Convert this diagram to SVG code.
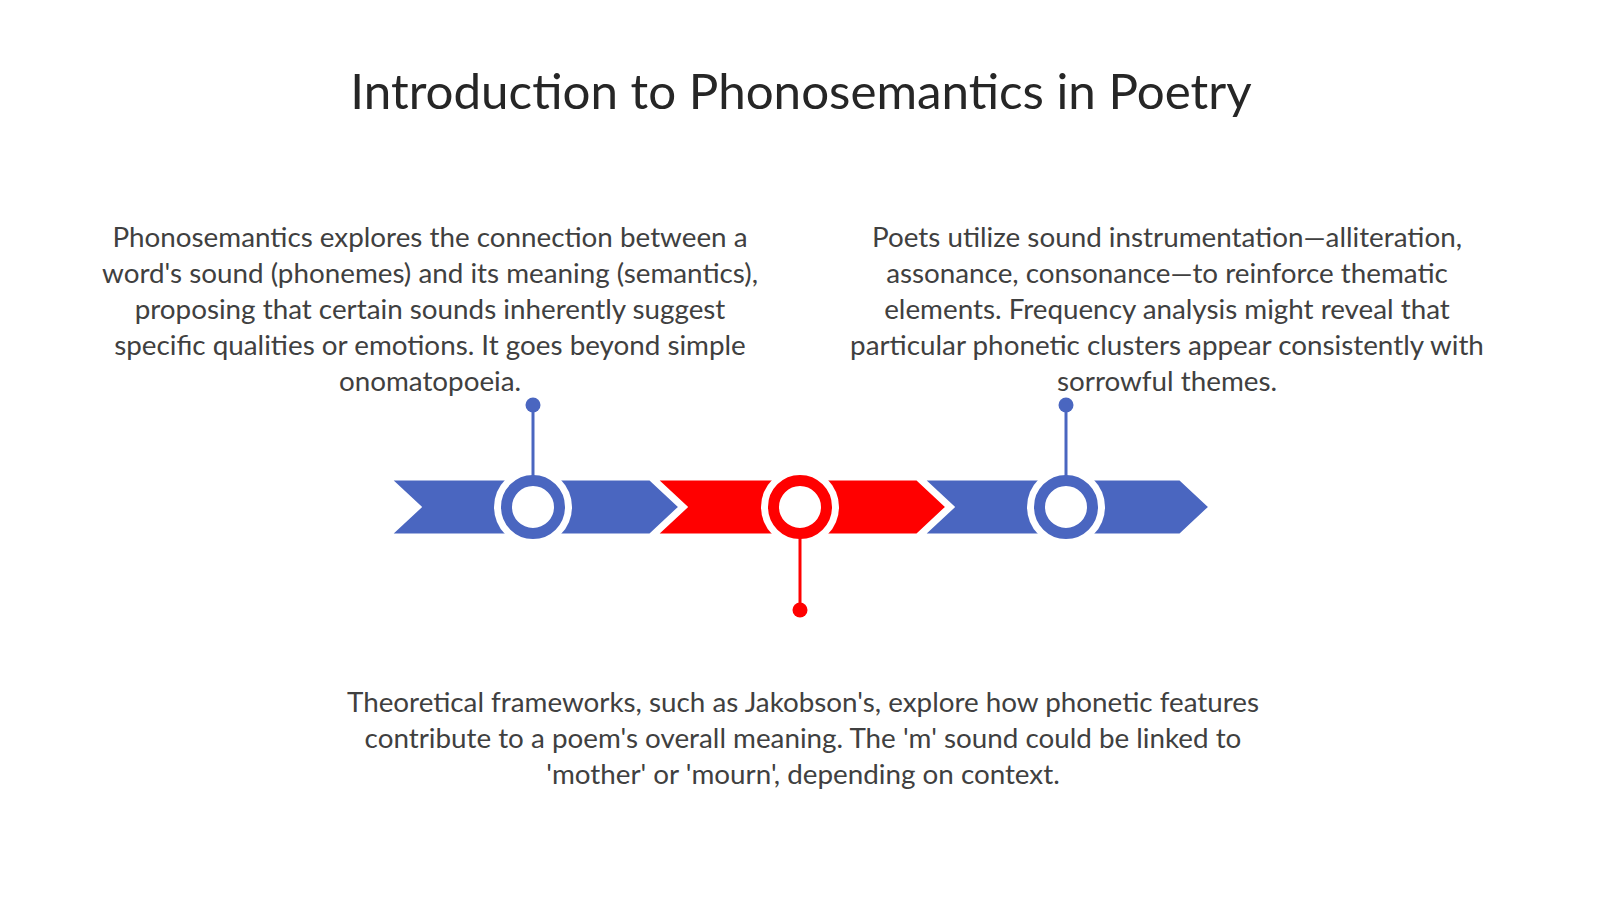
<svg xmlns="http://www.w3.org/2000/svg" width="1600" height="899" viewBox="0 0 1600 899">
<style>
.title{font-family:Lato,"Open Sans","Liberation Sans",sans-serif;font-size:49.3px;fill:#262626;text-anchor:middle}
.body{font-family:Lato,"Open Sans","Liberation Sans",sans-serif;font-size:27.8px;fill:#404040;text-anchor:middle}
.blue{fill:#4A66C0}
.red{fill:#FF0000}
.chev{stroke:#FFFFFF;stroke-width:3;stroke-linejoin:miter}
.halo{fill:#FFFFFF}
.ringB{fill:#FFFFFF;stroke:#4A66C0;stroke-width:11}
.ringR{fill:#FFFFFF;stroke:#FF0000;stroke-width:11}
.pinB{stroke:#4A66C0;stroke-width:3}
.pinR{stroke:#FF0000;stroke-width:3}
</style>
<rect width="1600" height="899" fill="#FFFFFF"/>
<text class="title" x="801" y="109">Introduction to Phonosemantics in Poetry</text>
<g id="band">
<polygon class="chev blue" points="390,479 650,479 680,507 650,535 390,535 420,507"/>
<polygon class="chev red" points="656,479 917,479 947,507 917,535 656,535 686,507"/>
<polygon class="chev blue" points="923,479 1180,479 1210,507 1180,535 923,535 953,507"/>
</g>
<g id="node1">
<circle class="halo" cx="533" cy="507" r="39"/>
<circle class="ringB" cx="533" cy="507" r="26.5"/>
<circle class="blue" cx="533" cy="405" r="7.5"/>
<text class="body" x="430" y="247">Phonosemantics explores the connection between a</text>
<text class="body" x="430" y="283">word's sound (phonemes) and its meaning (semantics),</text>
<text class="body" x="430" y="319">proposing that certain sounds inherently suggest</text>
<text class="body" x="430" y="355">specific qualities or emotions. It goes beyond simple</text>
<text class="body" x="430" y="391">onomatopoeia.</text>
</g>
<g id="node2">
<circle class="halo" cx="800" cy="507" r="39"/>
<circle class="ringR" cx="800" cy="507" r="26.5"/>
<circle class="red" cx="800" cy="610" r="7.5"/>
<text class="body" x="803" y="712">Theoretical frameworks, such as Jakobson's, explore how phonetic features</text>
<text class="body" x="803" y="748">contribute to a poem's overall meaning. The 'm' sound could be linked to</text>
<text class="body" x="803" y="784">'mother' or 'mourn', depending on context.</text>
</g>
<g id="node3">
<circle class="halo" cx="1066" cy="507" r="39"/>
<circle class="ringB" cx="1066" cy="507" r="26.5"/>
<circle class="blue" cx="1066" cy="405" r="7.5"/>
<text class="body" x="1167" y="247">Poets utilize sound instrumentation—alliteration,</text>
<text class="body" x="1167" y="283">assonance, consonance—to reinforce thematic</text>
<text class="body" x="1167" y="319">elements. Frequency analysis might reveal that</text>
<text class="body" x="1167" y="355">particular phonetic clusters appear consistently with</text>
<text class="body" x="1167" y="391">sorrowful themes.</text>
</g>
<g id="connectors">
<line class="pinB" x1="533" y1="405" x2="533" y2="476"/>
<line class="pinR" x1="800" y1="538" x2="800" y2="610"/>
<line class="pinB" x1="1066" y1="405" x2="1066" y2="476"/>
</g>
</svg>
